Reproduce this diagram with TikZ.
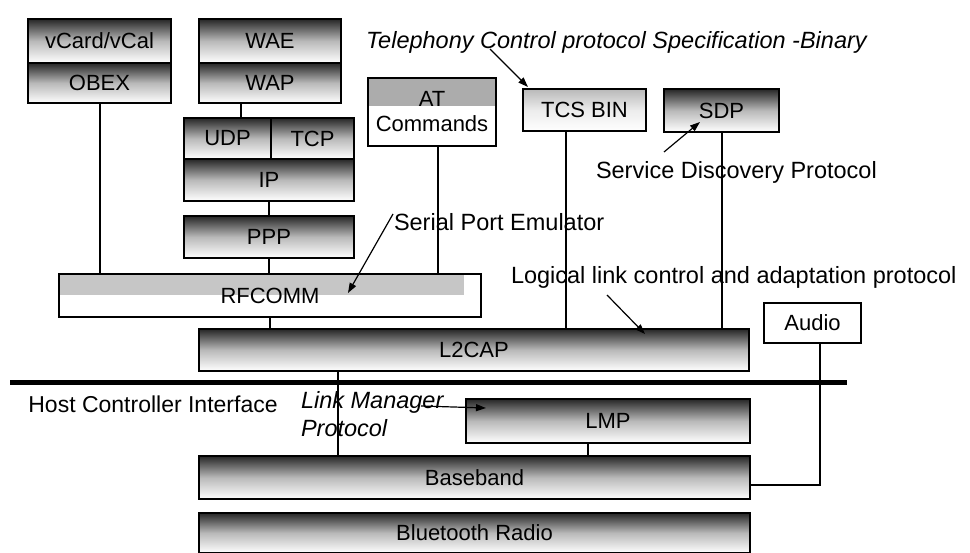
\documentclass[tikz,border=0pt]{standalone}
\usepackage{fontspec}
\setmainfont{Liberation Sans}
\usetikzlibrary{arrows.meta}

\tikzset{every picture/.style={line width=2pt}}
\tikzset{
  layer/.style={draw, line width=2pt, inner sep=0pt, anchor=north west, align=center,
    font=\fontsize{22}{25}\selectfont},
  dark/.style={layer, top color=black!85, bottom color=white, middle color=gray!55},
  light/.style={layer, top color=gray!55, bottom color=white, middle color=white!85!gray},
  rfbox/.style={layer, path picture={\fill[gray!45] (path picture bounding box.north west) rectangle ([xshift=-17pt]path picture bounding box.east);}},
  atbox/.style={layer, path picture={\fill[gray!65] (path picture bounding box.north west) rectangle ([yshift=6pt]path picture bounding box.east);}},
  note/.style={inner sep=0pt, font=\fontsize{23.5}{28}\selectfont},
  pointer/.style={line width=1.2pt, -{Triangle[length=10pt,width=7pt]}}
}

\begin{document}
\begin{tikzpicture}[x=1pt,y=1pt,yscale=-1,xscale=1]
\useasboundingbox (0,0) rectangle (970,553);

%Shape: Rectangle
\node[dark, minimum width=143pt, minimum height=44pt] (vcard) at (27,18) {vCard/vCal};
\node[dark, minimum width=143pt, minimum height=40pt] (obex) at (27,62) {OBEX};
%Shape: Rectangle
\node[dark, minimum width=142pt, minimum height=44pt] (wae) at (198,18) {WAE};
\node[dark, minimum width=142pt, minimum height=40pt] (wap) at (198,62) {WAP};
%Shape: Rectangle
\node[dark, minimum width=87pt, minimum height=41pt] (udp) at (183,117) {UDP};
\node[dark, minimum width=83pt, minimum height=41pt] (tcp) at (270,117) {TCP};
\node[dark, minimum width=170pt, minimum height=42pt] (ip) at (183,158) {IP};
\node[dark, minimum width=170pt, minimum height=42pt] (ppp) at (183,215) {PPP};
%Shape: Rectangle
\node[rfbox, minimum width=422pt, minimum height=43pt] (rfcomm) at (58,273) {RFCOMM};
%Shape: Rectangle
\node[atbox, minimum width=128pt, minimum height=68pt] (atcmd) at (367,77) {AT\\Commands};
\node[light, minimum width=123pt, minimum height=42pt] (tcsbin) at (522,88) {TCS BIN};
\node[dark, minimum width=115pt, minimum height=43pt] (sdp) at (663,88) {SDP};
%Shape: Rectangle
\node[dark, minimum width=550pt, minimum height=42pt] (l2cap) at (198,328) {L2CAP};
\node[layer, fill=white, minimum width=97pt, minimum height=40pt] (audio) at (763,302) {Audio};
\node[dark, minimum width=284pt, minimum height=44pt] (lmp) at (465,398) {LMP};
\node[dark, minimum width=551pt, minimum height=43pt] (baseband) at (198,455) {Baseband};
\node[dark, minimum width=551pt, minimum height=40pt] (radio) at (198,512) {Bluetooth Radio};

%Straight Lines
\coordinate (hcil) at (10,383);
\coordinate (hcir) at (847,383);
\draw[line width=5pt] (hcil) -- (hcir);
\node[note, font=\fontsize{23}{28}\selectfont] (hcitext) at (153,404) {Host Controller Interface};

%Straight Lines
\draw (obex.south) -- (obex.south |- rfcomm.north);
\draw ([xshift=43pt]wap.south west) -- ([xshift=43pt]wap.south west |- udp.north);
\draw (ip.south) -- (ppp.north);
\draw (ppp.south) -- (ppp.south |- rfcomm.north);
\draw ([xshift=71pt]atcmd.south west) -- ([xshift=71pt]atcmd.south west |- rfcomm.north);
\draw ([xshift=44pt]tcsbin.south west) -- ([xshift=44pt]tcsbin.south west |- l2cap.north);
\draw (sdp.south) -- (sdp.south |- l2cap.north);
\draw (rfcomm.south) -- (rfcomm.south |- l2cap.north);
\draw ([xshift=140pt]l2cap.south west) -- ([xshift=140pt]l2cap.south west |- baseband.north);
\draw ([xshift=123pt]lmp.south west) -- ([xshift=123pt]lmp.south west |- baseband.north);
\draw ([xshift=57pt]audio.south west) |- ([yshift=7pt]baseband.east);

%Text
\node[note, anchor=west, font=\fontsize{23.5}{28}\selectfont\itshape] (tcslbl) at (365,42) {Telephony Control protocol Specification -Binary};
\coordinate (tcstail) at (490,49);
\draw[pointer] (tcstail) -- ([xshift=6pt,yshift=-1pt]tcsbin.north west);

\node[note, anchor=west] (sdplbl) at (595,172) {Service Discovery Protocol};
\coordinate (sdptail) at (664,152);
\coordinate (sdphead) at (700,122);
\draw[pointer] (sdptail) -- (sdphead);

\node[note, anchor=west] (spelbl) at (393,222) {Serial Port Emulator};
\coordinate (spetail) at (393,214);
\coordinate (spehead) at (348,293);
\draw[pointer] (spetail) -- (spehead);

\node[note, anchor=west] (l2lbl) at (510,277) {Logical link control and adaptation protocol};
\coordinate (l2tail) at (607,295);
\coordinate (l2head) at (645,334);
\draw[pointer] (l2tail) -- (l2head);

\node[note, anchor=north west, align=left, font=\fontsize{23.5}{28}\selectfont\itshape] (lmplbl) at (300,390) {Link Manager\\Protocol};
\coordinate (lmptail) at (421,406);
\coordinate (lmphead) at (486,408);
\draw[pointer] (lmptail) -- (lmphead);
\end{tikzpicture}
\end{document}
